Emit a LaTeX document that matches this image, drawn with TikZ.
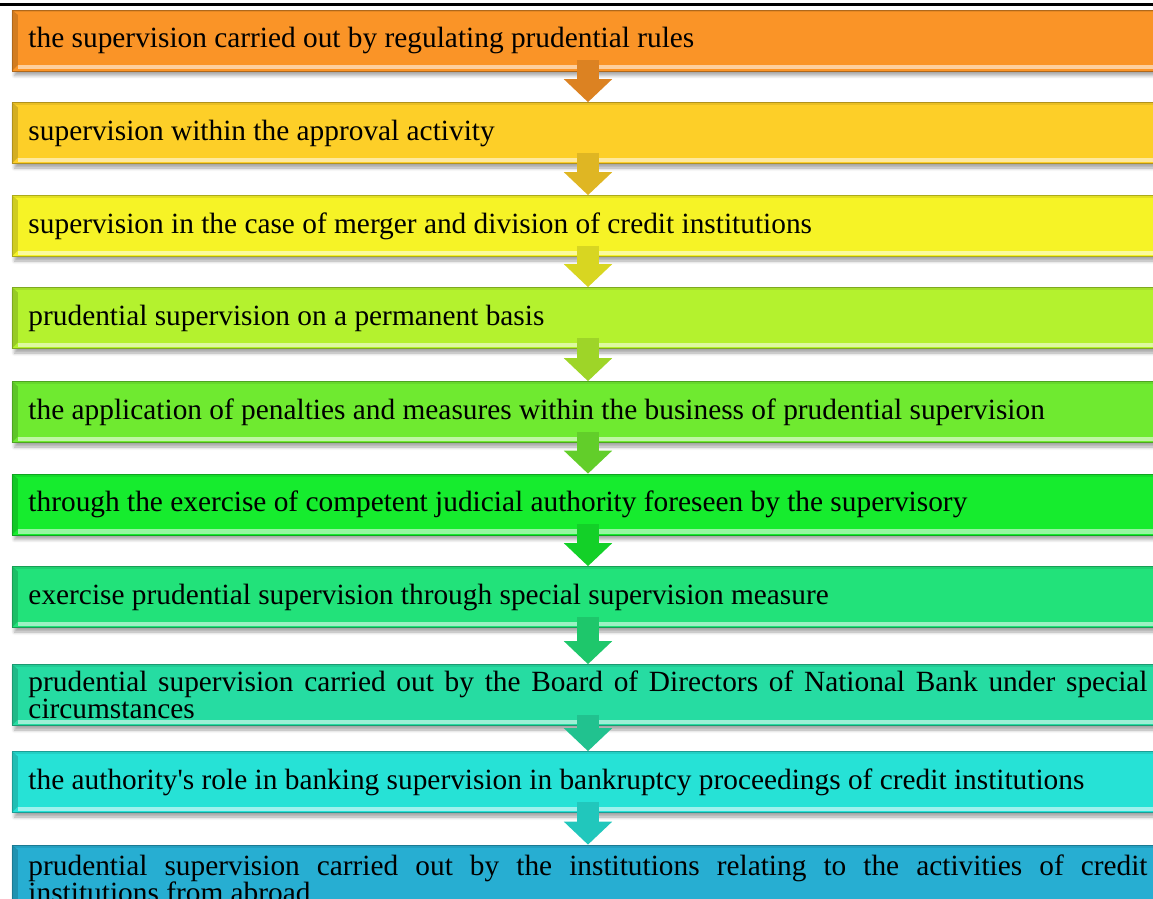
\documentclass[tikz,border=0pt]{standalone}
\usepackage{fontspec}
\setmainfont{Liberation Serif}
\usepackage{tikz}
\usetikzlibrary{arrows.meta, shadows.blur}
\definecolor{barA}{HTML}{FA9427}
\definecolor{barB}{HTML}{FDCF28}
\definecolor{barC}{HTML}{F6F326}
\definecolor{barD}{HTML}{B4F22E}
\definecolor{barE}{HTML}{6FEA30}
\definecolor{barF}{HTML}{16EC2E}
\definecolor{barG}{HTML}{22E27A}
\definecolor{barH}{HTML}{26DCA2}
\definecolor{barI}{HTML}{26E2D6}
\definecolor{barJ}{HTML}{27AED2}

\begin{document}
\begin{tikzpicture}[
    x=0.2mm, y=-0.2mm,
    level/.style={fill=#1, draw=#1!70!black, line width=0.4pt,
        minimum width=230.4mm, minimum height=12.2mm,
        inner xsep=3.3mm, inner ysep=0pt, text width=223.8mm, align=justify,
        font=\fontsize{16.7}{15.4}\selectfont,
        blur shadow={shadow xshift=0.5mm, shadow yshift=-0.9mm, shadow opacity=35, shadow blur steps=6},
        path picture={
            % bevel: dark top, pale bottom band, shaded left edge
            \fill[#1!85!black, opacity=0.5] (path picture bounding box.north west) rectangle ([yshift=-0.5mm]path picture bounding box.north east);
            \fill[#1!45!white] ([xshift=1.2mm, yshift=0.3mm]path picture bounding box.south west) rectangle ([yshift=1.2mm]path picture bounding box.south east);
            \fill[#1!65!black, opacity=0.45] (path picture bounding box.south west) -- (path picture bounding box.north west)
                -- ([xshift=1.2mm, yshift=-1mm]path picture bounding box.north west) -- ([xshift=1.2mm, yshift=1.2mm]path picture bounding box.south west) -- cycle;
        }},
    flow/.style={draw=#1!88!black, line width=4.4mm, shorten <=-2.2mm,
        -{Triangle[width=9.4mm, length=4.6mm]}}
]
    \useasboundingbox (0,0) rectangle (1153,899);
    \draw[line width=0.6mm] (0,4.5) -- (1153,4.5);

    \node[level=barA] (rules) at (588,40.5) {the supervision carried out by regulating prudential rules};
    \node[level=barB] (approval) at (588,133) {supervision within the approval activity};
    \node[level=barC] (merger) at (588,226) {supervision in the case of merger and division of credit institutions};
    \node[level=barD] (permanent) at (588,318) {prudential supervision on a permanent basis};
    \node[level=barE] (penalties) at (588,412) {the application of penalties and measures within the business of prudential supervision};
    \node[level=barF] (judicial) at (588,504.5) {through the exercise of competent judicial authority foreseen by the supervisory};
    \node[level=barG] (special) at (588,597) {exercise prudential supervision through special supervision measure};
    \node[level=barH] (board) at (588,695) {prudential supervision carried out by the Board of Directors of National Bank under special circumstances};
    \node[level=barI] (bankruptcy) at (588,782) {the authority\textquotesingle s role in banking supervision in bankruptcy proceedings of credit institutions};
    \node[level=barJ, minimum height=13.6mm] (abroad) at (588,879) {prudential supervision carried out by the institutions relating to the activities of credit\linebreak institutions from abroad};

    \draw[flow=barA] (rules) -- (approval);
    \draw[flow=barB] (approval) -- (merger);
    \draw[flow=barC] (merger) -- (permanent);
    \draw[flow=barD] (permanent) -- (penalties);
    \draw[flow=barE] (penalties) -- (judicial);
    \draw[flow=barF] (judicial) -- (special);
    \draw[flow=barG] (special) -- (board);
    \draw[flow=barH] (board) -- (bankruptcy);
    \draw[flow=barI] (bankruptcy) -- (abroad);
\end{tikzpicture}
\end{document}
